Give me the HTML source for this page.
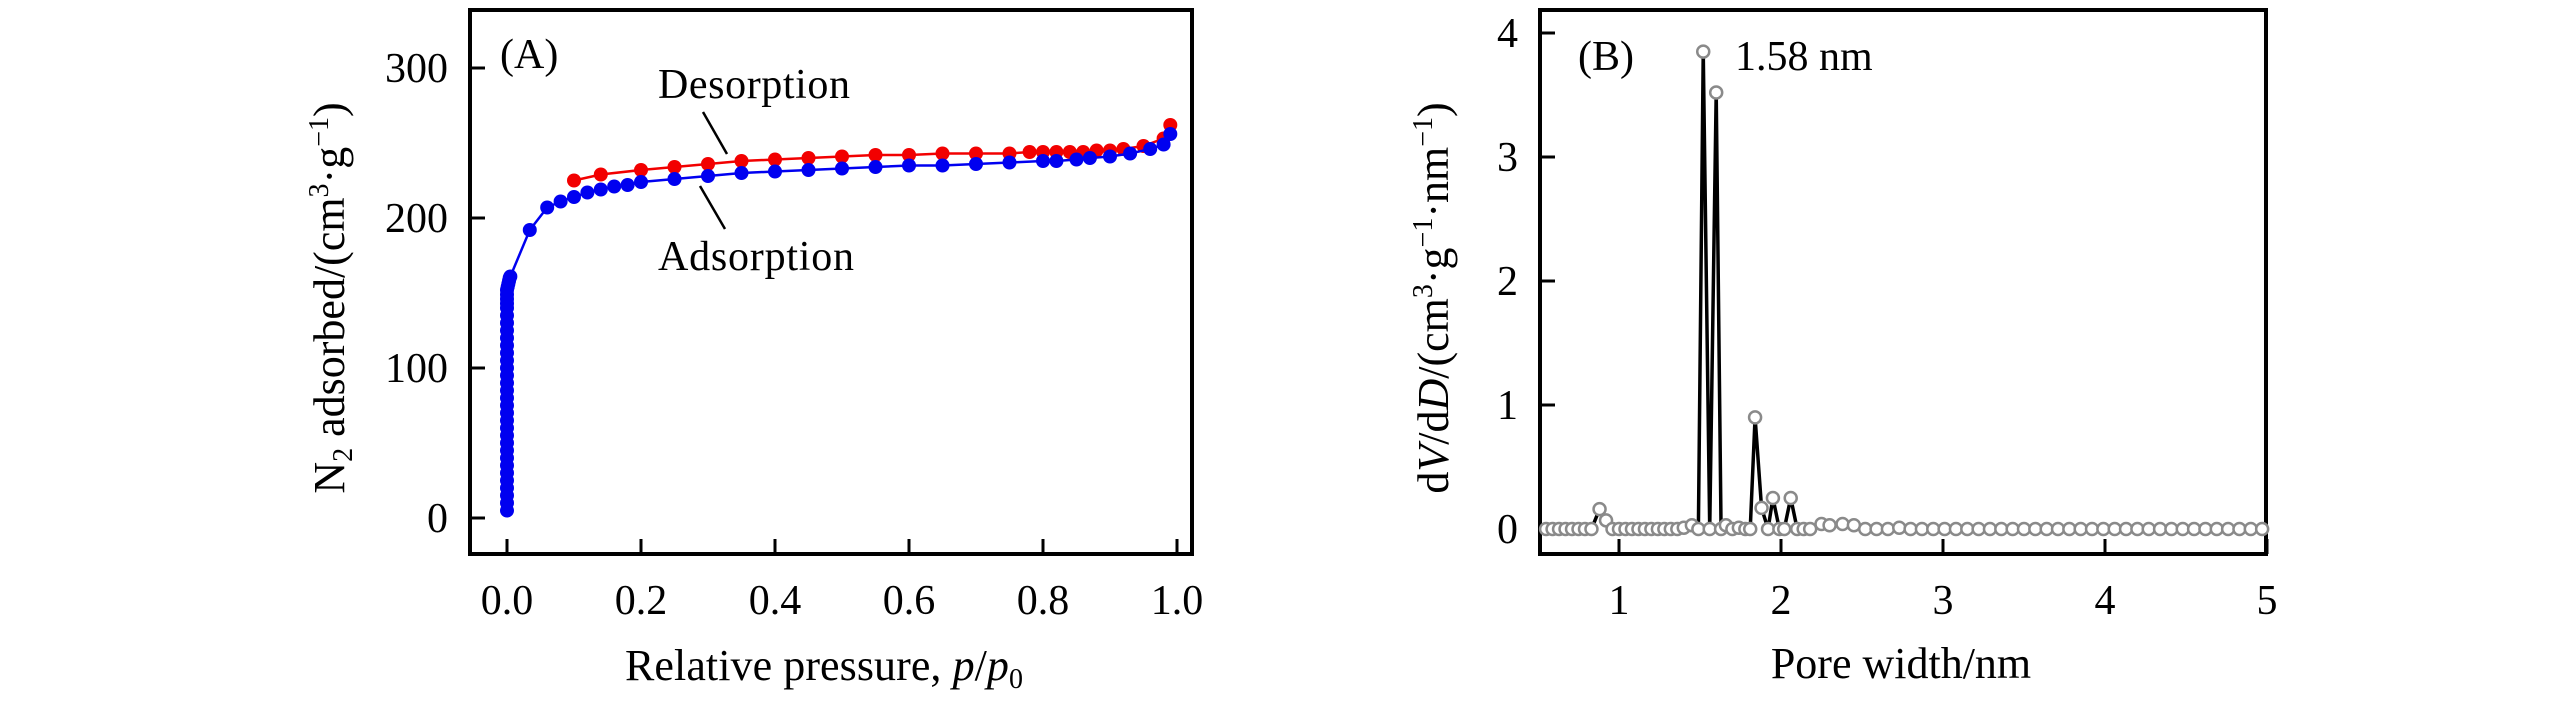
<!DOCTYPE html>
<html><head><meta charset="utf-8"><style>
html,body{margin:0;padding:0;background:#fff;}
svg{display:block;font-family:"Liberation Serif",serif;}
</style></head><body>
<svg width="2567" height="720" viewBox="0 0 2567 720" xmlns="http://www.w3.org/2000/svg">
<g id="pa"></g>
<g id="pb"></g>
</svg>
<script>
// Panel A data
const adsP = [0,0,0,0,0,0,0,0,0,0,0,0,0,0,0,0,0,0,0,0,0,0,0,0,0,0,0,0,0,0,0,0,0.001,0.002,0.003,0.004,0.005,0.034,0.06,0.08,0.1,0.12,0.14,0.16,0.18,0.2,0.25,0.3,0.35,0.4,0.45,0.5,0.55,0.6,0.65,0.7,0.75,0.8,0.82,0.85,0.87,0.9,0.93,0.96,0.98,0.99];
const adsV = [5,10,15,20,25,30,35,40,45,50,55,60,65,70,75,80,85,90,95,100,105,110,115,120,125,130,135,140,143,146,149,152,154,156,158,160,161,192,207,211,214,217,219,221,222,224,226,228,230,231,232,233,234,235,235,236,237,238,238,239,240,241,243,246,249,256];
const desP = [0.1,0.14,0.2,0.25,0.3,0.35,0.4,0.45,0.5,0.55,0.6,0.65,0.7,0.75,0.78,0.8,0.82,0.84,0.86,0.88,0.9,0.92,0.95,0.98,0.99];
const desV = [225,229,232,234,236,238,239,240,241,242,242,243,243,243,244,244,244,244,244,245,245,246,248,253,262];
const aXTicks = [0,0.2,0.4,0.6,0.8,1.0];
const aXLabels = ["0.0","0.2","0.4","0.6","0.8","1.0"];
const aYTicks = [0,100,200,300];
const aYLabels = ["0","100","200","300"];
// Panel B data
const bX = [0.55,0.59,0.63,0.67,0.71,0.75,0.79,0.83,0.88,0.92,0.96,1.0,1.04,1.08,1.12,1.16,1.2,1.24,1.28,1.32,1.36,1.4,1.45,1.49,1.52,1.56,1.6,1.63,1.66,1.7,1.74,1.78,1.81,1.84,1.88,1.92,1.95,1.99,2.02,2.06,2.1,2.14,2.18,2.25,2.3,2.38,2.45,2.52,2.59,2.66,2.73,2.8,2.87,2.94,3.01,3.08,3.15,3.22,3.29,3.36,3.43,3.5,3.57,3.64,3.71,3.78,3.85,3.92,3.99,4.06,4.13,4.2,4.27,4.34,4.41,4.48,4.55,4.62,4.69,4.76,4.83,4.9,4.97];
const bY = [0,0,0,0,0,0,0,0,0.16,0.07,0,0,0,0,0,0,0,0,0,0,0,0.01,0.03,0,3.85,0,3.52,0,0.03,0,0.01,0,0,0.9,0.17,0,0.25,0,0,0.25,0,0,0,0.04,0.03,0.04,0.03,0,0,0,0.01,0,0,0,0,0,0,0,0,0,0,0,0,0,0,0,0,0,0,0,0,0,0,0,0,0,0,0,0,0,0,0,0];
const bXTicks = [1,2,3,4,5];
const bXLabels = ["1","2","3","4","5"];
const bYTicks = [0,1,2,3,4];
const bYLabels = ["0","1","2","3","4"];

const NS="http://www.w3.org/2000/svg";
function mk(tag,attrs,parent,txt){const e=document.createElementNS(NS,tag);for(const k in attrs)e.setAttribute(k,attrs[k]);if(txt!==undefined)e.textContent=txt;parent.appendChild(e);return e;}

// Panel A
const A=document.getElementById('pa');
const ax=v=>507+v*670, ay=v=>518-v*1.5;
let e;
e=mk('rect',{x:470,y:10,width:722,height:544,fill:'none',stroke:'#000','stroke-width':4},A);


aXTicks.forEach((t,i)=>{
  e=mk('line',{x1:ax(t),x2:ax(t),y1:554,y2:539,stroke:'#000','stroke-width':3},A);
  
  
  e=mk('text',{x:ax(t),y:614,'font-size':42,'text-anchor':'middle'},A,aXLabels[i]);
  
  
});
aYTicks.forEach((t,i)=>{
  e=mk('line',{x1:470,x2:485,y1:ay(t),y2:ay(t),stroke:'#000','stroke-width':3},A);
  
  
  e=mk('text',{x:448,y:ay(t)+14,'font-size':42,'text-anchor':'end'},A,aYLabels[i]);
  
  
});
function series(P,V,col,name){
  const g=mk('g',{},A);
  
  
  mk('polyline',{points:P.map((p,i)=>ax(p)+','+ay(V[i])).join(' '),fill:'none',stroke:col,'stroke-width':2.5},g);
  P.forEach((p,i)=>{
    const c=mk('circle',{cx:ax(p),cy:ay(V[i]),r:7,fill:col},g);
    
    
  });
}
series(desP,desV,'#f20000','desorption-series');
series(adsP,adsV,'#0000f0','adsorption-series');
e=mk('text',{x:500,y:68,'font-size':42},A,'(A)');


e=mk('text',{x:658,y:98,'font-size':42,textLength:192},A,'Desorption');


e=mk('line',{x1:703,y1:112,x2:727,y2:154,stroke:'#000','stroke-width':2.5},A);


e=mk('text',{x:658,y:270,'font-size':42,textLength:196},A,'Adsorption');


e=mk('line',{x1:700,y1:186,x2:725,y2:229,stroke:'#000','stroke-width':2.5},A);


e=mk('text',{x:625,y:680,'font-size':44,textLength:398},A);
e.innerHTML='Relative pressure, <tspan font-style="italic">p</tspan>/<tspan font-style="italic">p</tspan><tspan font-size="28" dy="8">0</tspan>';


e=mk('text',{x:0,y:0,'font-size':44,'text-anchor':'middle',transform:'translate(344,298) rotate(-90)'},A);
e.innerHTML='N<tspan font-size="28" dy="8">2</tspan><tspan dy="-8"> adsorbed/(cm</tspan><tspan font-size="28" dy="-16">3</tspan><tspan dy="16">·g</tspan><tspan font-size="28" dy="-16">−1</tspan><tspan dy="16">)</tspan>';



// Panel B
const B=document.getElementById('pb');
const bx=v=>1619+(v-1)*162, by=v=>529-v*124;
e=mk('rect',{x:1540,y:10,width:726,height:544,fill:'none',stroke:'#000','stroke-width':4},B);


bXTicks.forEach((t,i)=>{
  e=mk('line',{x1:bx(t),x2:bx(t),y1:554,y2:539,stroke:'#000','stroke-width':3},B);
  
  
  e=mk('text',{x:bx(t),y:614,'font-size':42,'text-anchor':'middle'},B,bXLabels[i]);
  
  
});
bYTicks.forEach((t,i)=>{
  e=mk('line',{x1:1540,x2:1555,y1:by(t),y2:by(t),stroke:'#000','stroke-width':3},B);
  
  
  e=mk('text',{x:1518,y:by(t)+14,'font-size':42,'text-anchor':'end'},B,bYLabels[i]);
  
  
});
const gb=mk('g',{},B);


mk('polyline',{points:bX.map((x,i)=>bx(x)+','+by(bY[i])).join(' '),fill:'none',stroke:'#000','stroke-width':3.5},gb);
bX.forEach((x,i)=>{
  const c=mk('circle',{cx:bx(x),cy:by(bY[i]),r:6,fill:'#fff',stroke:'#8a8a8a','stroke-width':2.5},gb);
  
  
});
e=mk('text',{x:1578,y:70,'font-size':42},B,'(B)');


e=mk('text',{x:1735,y:70,'font-size':42},B,'1.58 nm');


e=mk('text',{x:1901,y:678,'font-size':44,'text-anchor':'middle'},B,'Pore width/nm');


e=mk('text',{x:0,y:0,'font-size':44,'text-anchor':'middle',transform:'translate(1448,298) rotate(-90)'},B);
e.innerHTML='d<tspan font-style="italic">V</tspan>/d<tspan font-style="italic">D</tspan>/(cm<tspan font-size="28" dy="-16">3</tspan><tspan dy="16">·g</tspan><tspan font-size="28" dy="-16">−1</tspan><tspan dy="16">·nm</tspan><tspan font-size="28" dy="-16">−1</tspan><tspan dy="16">)</tspan>';


</script>
</body></html>
